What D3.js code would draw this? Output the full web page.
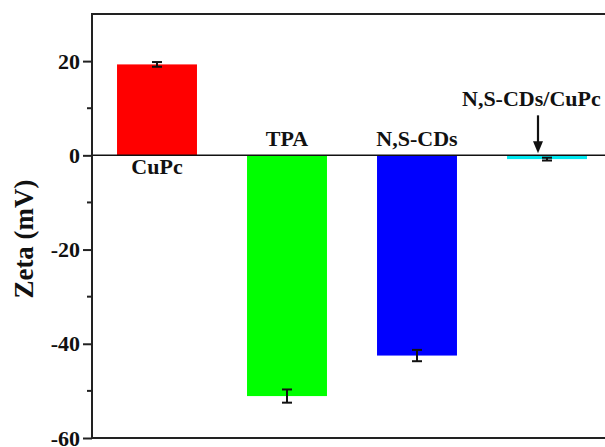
<!DOCTYPE html>
<html><head><meta charset="utf-8">
<script src="https://cdn.jsdelivr.net/npm/d3@7/dist/d3.min.js"></script>
<style>body{margin:0;background:#fff}svg{display:block}text{font-family:"Liberation Serif","Times New Roman",serif !important;font-weight:bold;fill:#111}</style>
</head><body>
<svg id="c" width="605" height="447"></svg>
<script>
const categories = ["CuPc", "TPA", "N,S-CDs", "N,S-CDs/CuPc"];
const values = [19.3, -51.1, -42.5, -0.8];
const errors = [0.5, 1.4, 1.2, 0.3];
const colors = ["#ff0000", "#00ff00", "#0000ff", "#00e8f0"];
const majorTicks = [-60, -40, -20, 0, 20];
const minorTicks = [-50, -30, -10, 10];

const svg = d3.select("#c");
const L = 92, R = 612, T = 14, B = 438;
const y = d3.scaleLinear().domain([-60, 30]).range([B, T]);
const x = d3.scaleBand().domain(categories).range([L, R]).paddingInner(0.385).paddingOuter(0.1925);

// bars
svg.selectAll("rect.bar").data(categories).join("rect")
  .attr("x", d => x(d)).attr("width", x.bandwidth())
  .attr("y", (d, i) => y(Math.max(0, values[i])))
  .attr("height", (d, i) => Math.abs(y(values[i]) - y(0)))
  .attr("fill", (d, i) => colors[i]);

// error bars
const eg = svg.append("g").attr("stroke", "#111").attr("stroke-width", 2);
categories.forEach((c, i) => {
  const cx = x(c) + x.bandwidth() / 2;
  const y1 = y(values[i] + errors[i]), y2 = y(values[i] - errors[i]);
  eg.append("line").attr("x1", cx).attr("x2", cx).attr("y1", y1).attr("y2", y2);
  eg.append("line").attr("x1", cx - 5).attr("x2", cx + 5).attr("y1", y1).attr("y2", y1);
  eg.append("line").attr("x1", cx - 5).attr("x2", cx + 5).attr("y1", y2).attr("y2", y2);
});

// zero line
svg.append("line").attr("x1", L).attr("x2", R).attr("y1", y(0)).attr("y2", y(0))
  .attr("stroke", "#111").attr("stroke-width", 1.5);

// frame
svg.append("rect").attr("x", L).attr("y", T).attr("width", R - L).attr("height", B - T)
  .attr("fill", "none").attr("stroke", "#222").attr("stroke-width", 2);

// y axis
const ax = svg.append("g").attr("transform", `translate(${L},0)`)
  .call(d3.axisLeft(y).tickValues(majorTicks).tickSize(9).tickPadding(3).tickFormat(d => String(d)));
ax.attr("font-family", null);
ax.select(".domain").remove();
ax.selectAll(".tick line").attr("stroke", "#222").attr("stroke-width", 2);
ax.selectAll(".tick text").attr("font-size", 22).attr("fill", "#111");
svg.append("g").selectAll("line").data(minorTicks).join("line")
  .attr("x1", L - 5).attr("x2", L).attr("y1", d => y(d)).attr("y2", d => y(d))
  .attr("stroke", "#222").attr("stroke-width", 2);

// y label
svg.append("text").attr("transform", `translate(33,${(T + B) / 2 + 13}) rotate(-90)`)
  .attr("text-anchor", "middle").attr("font-size", 27).text("Zeta (mV)");

// category labels
const cxOf = c => x(c) + x.bandwidth() / 2;
svg.append("text").attr("x", cxOf("CuPc")).attr("y", y(0) + 19).attr("text-anchor", "middle").attr("font-size", 22).text("CuPc");
svg.append("text").attr("x", cxOf("TPA")).attr("y", y(0) - 9).attr("text-anchor", "middle").attr("font-size", 22).text("TPA");
svg.append("text").attr("x", cxOf("N,S-CDs")).attr("y", y(0) - 9).attr("text-anchor", "middle").attr("font-size", 22).text("N,S-CDs");
const c4 = cxOf("N,S-CDs/CuPc");
svg.append("text").attr("x", c4 - 85).attr("y", y(0) - 49).attr("text-anchor", "start").attr("font-size", 22).text("N,S-CDs/CuPc");

// arrow
const ax4 = c4 - 9;
svg.append("line").attr("x1", ax4).attr("x2", ax4).attr("y1", y(0) - 40).attr("y2", y(0) - 12)
  .attr("stroke", "#111").attr("stroke-width", 2.2);
svg.append("path").attr("d", `M${ax4 - 5},${y(0) - 14} L${ax4 + 5},${y(0) - 14} L${ax4},${y(0) - 2} Z`).attr("fill", "#111");
</script>
</body></html>
